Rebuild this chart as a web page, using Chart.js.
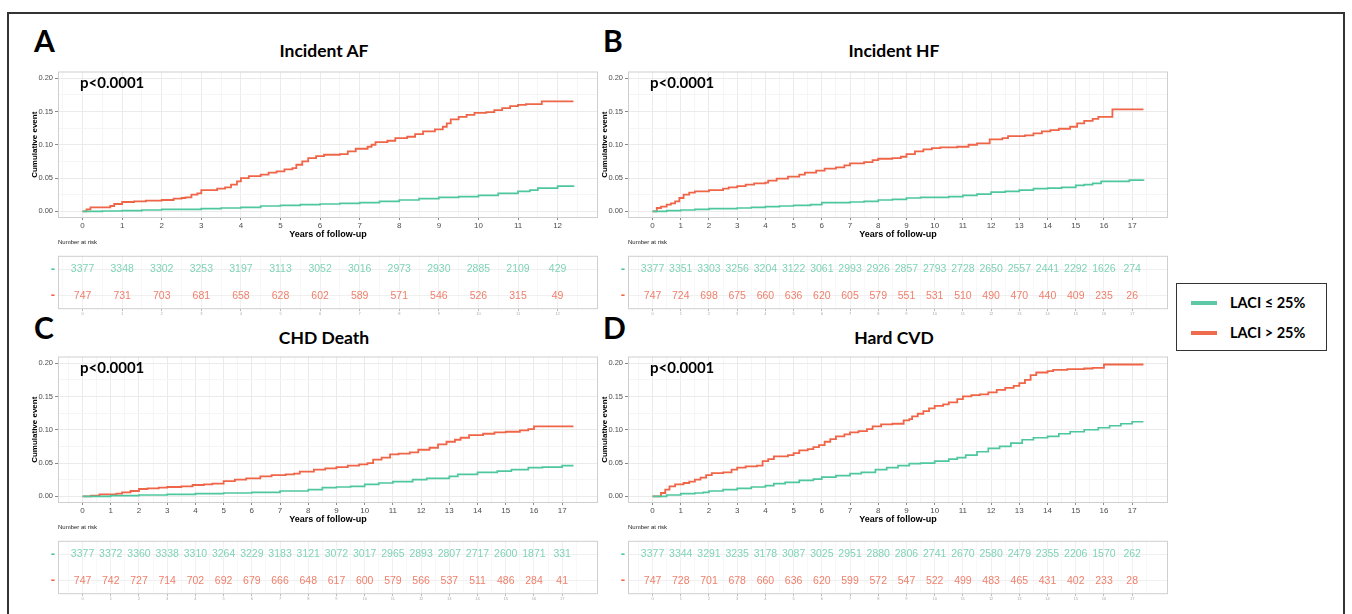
<!DOCTYPE html>
<html>
<head>
<meta charset="utf-8">
<script src="https://cdn.jsdelivr.net/npm/chart.js@4"></script>
<style>
  body { margin: 0; background: #fff; }
  #wrap { position: relative; width: 1352px; height: 614px; overflow: hidden; background: #fff; }
  #border { position: absolute; left: 7px; top: 12px; width: 1334px; height: 620px; border: 2px solid #333; }
  canvas { position: absolute; }
  .letter { position: absolute; font: bold 30px Lato, sans-serif; line-height: 30px; color: #000; }
  .title { position: absolute; width: 300px; text-align: center; font: bold 17.5px Lato, sans-serif; line-height: 20px; color: #000; }
  .pval { position: absolute; font: bold 15px Lato, sans-serif; line-height: 16px; color: #000; }
  .nrisk { position: absolute; font: 6px "Liberation Sans", Arial, sans-serif; line-height: 6px; color: #222; }
  #legend { position: absolute; left: 1176px; top: 283px; width: 149px; height: 66px; border: 1.5px solid #333; background: #fff; }
  .lg { position: absolute; left: 14px; width: 26px; height: 4px; }
  .lgt { position: absolute; left: 53px; font: bold 14.5px Lato, sans-serif; line-height: 16px; color: #000; }
</style>
</head>
<body>
<div id="wrap">
  <div id="border"></div>

  <div class="letter" style="left:34px;top:25px">A</div>
  <div class="letter" style="left:603px;top:25px">B</div>
  <div class="letter" style="left:34px;top:312px">C</div>
  <div class="letter" style="left:603px;top:312px">D</div>

  <div class="title" style="left:174px;top:41px">Incident AF</div>
  <div class="title" style="left:744px;top:41px">Incident HF</div>
  <div class="title" style="left:174px;top:328px">CHD Death</div>
  <div class="title" style="left:744px;top:328px">Hard CVD</div>

  <canvas id="kmA" width="584" height="175" style="left:26px;top:65px"></canvas>
  <canvas id="kmB" width="584" height="175" style="left:596px;top:65px"></canvas>
  <canvas id="kmC" width="584" height="175" style="left:26px;top:350px"></canvas>
  <canvas id="kmD" width="584" height="175" style="left:596px;top:350px"></canvas>

  <div class="pval" style="left:80px;top:74px">p&lt;0.0001</div>
  <div class="pval" style="left:650px;top:74px">p&lt;0.0001</div>
  <div class="pval" style="left:80px;top:359px">p&lt;0.0001</div>
  <div class="pval" style="left:650px;top:359px">p&lt;0.0001</div>

  <div class="nrisk" style="left:58px;top:239px">Number at risk</div>
  <div class="nrisk" style="left:628px;top:239px">Number at risk</div>
  <div class="nrisk" style="left:58px;top:524px">Number at risk</div>
  <div class="nrisk" style="left:628px;top:524px">Number at risk</div>

  <canvas id="rkA" width="580" height="75" style="left:30px;top:245px"></canvas>
  <canvas id="rkB" width="580" height="75" style="left:600px;top:245px"></canvas>
  <canvas id="rkC" width="580" height="75" style="left:30px;top:530px"></canvas>
  <canvas id="rkD" width="580" height="75" style="left:600px;top:530px"></canvas>

  <div id="legend">
    <div class="lg" style="top:17px;background:#5ec7a5"></div>
    <div class="lgt" style="top:11px">LACI ≤ 25%</div>
    <div class="lg" style="top:47px;background:#ee6b4d"></div>
    <div class="lgt" style="top:41px">LACI &gt; 25%</div>
  </div>
</div>

<script>
// follow-up years shown on the axes / risk tables
const yearsAF = [0, 1, 2, 3, 4, 5, 6, 7, 8, 9, 10, 11, 12];
const years17 = [0, 1, 2, 3, 4, 5, 6, 7, 8, 9, 10, 11, 12, 13, 14, 15, 16, 17];

// numbers at risk
const afLowRisk = [3377, 3348, 3302, 3253, 3197, 3113, 3052, 3016, 2973, 2930, 2885, 2109, 429];
const afHighRisk = [747, 731, 703, 681, 658, 628, 602, 589, 571, 546, 526, 315, 49];
const hfLowRisk = [3377, 3351, 3303, 3256, 3204, 3122, 3061, 2993, 2926, 2857, 2793, 2728, 2650, 2557, 2441, 2292, 1626, 274];
const hfHighRisk = [747, 724, 698, 675, 660, 636, 620, 605, 579, 551, 531, 510, 490, 470, 440, 409, 235, 26];
const chdLowRisk = [3377, 3372, 3360, 3338, 3310, 3264, 3229, 3183, 3121, 3072, 3017, 2965, 2893, 2807, 2717, 2600, 1871, 331];
const chdHighRisk = [747, 742, 727, 714, 702, 692, 679, 666, 648, 617, 600, 579, 566, 537, 511, 486, 284, 41];
const cvdLowRisk = [3377, 3344, 3291, 3235, 3178, 3087, 3025, 2951, 2880, 2806, 2741, 2670, 2580, 2479, 2355, 2206, 1570, 262];
const cvdHighRisk = [747, 728, 701, 678, 660, 636, 620, 599, 572, 547, 522, 499, 483, 465, 431, 402, 233, 28];

// cumulative event curves (step times / values)
const afHighT = [0, 0.1, 0.2, 0.7, 0.8, 1.0, 1.3, 1.6, 2.0, 2.3, 2.5, 2.6, 2.75, 2.9, 3.0, 3.4, 3.6, 3.75, 3.9, 4.0, 4.2, 4.5, 4.7, 4.9, 5.1, 5.3, 5.4, 5.55, 5.7, 5.9, 6.1, 6.5, 6.7, 6.9, 7.2, 7.3, 7.4, 7.7, 7.9, 8.2, 8.4, 8.6, 8.9, 9.1, 9.2, 9.3, 9.5, 9.7, 9.9, 10.2, 10.4, 10.6, 10.8, 11.0, 11.2, 11.6, 12.4];
const afHighV = [0, 0.003, 0.006, 0.008, 0.011, 0.014, 0.015, 0.016, 0.017, 0.019, 0.020, 0.021, 0.025, 0.027, 0.032, 0.034, 0.036, 0.040, 0.045, 0.050, 0.053, 0.055, 0.058, 0.060, 0.063, 0.065, 0.070, 0.075, 0.080, 0.083, 0.085, 0.086, 0.090, 0.094, 0.097, 0.100, 0.104, 0.106, 0.110, 0.112, 0.116, 0.120, 0.123, 0.127, 0.132, 0.138, 0.142, 0.145, 0.148, 0.149, 0.152, 0.155, 0.158, 0.160, 0.161, 0.165, 0.165];
const afLowT = [0, 0.5, 1, 1.5, 2, 2.5, 3, 3.5, 4, 4.5, 5, 5.5, 6, 6.5, 7, 7.5, 8, 8.5, 9, 9.5, 10, 10.5, 11, 11.3, 11.5, 12, 12.4];
const afLowV = [0, 0.0005, 0.001, 0.002, 0.003, 0.003, 0.004, 0.005, 0.006, 0.008, 0.009, 0.010, 0.011, 0.012, 0.013, 0.015, 0.017, 0.019, 0.021, 0.022, 0.024, 0.027, 0.030, 0.032, 0.035, 0.038, 0.039];

const hfHighT = [0, 0.15, 0.3, 0.5, 0.65, 0.8, 0.95, 1.1, 1.3, 1.5, 2.0, 2.5, 2.7, 3.0, 3.3, 3.6, 4.0, 4.1, 4.4, 4.8, 5.2, 5.4, 5.8, 6.1, 6.5, 6.8, 7.0, 7.5, 7.8, 8.0, 8.5, 8.8, 9.0, 9.3, 9.6, 9.9, 10.2, 10.8, 11.2, 11.5, 11.95, 12.4, 12.6, 13.2, 13.5, 13.8, 14.1, 14.4, 14.8, 15.05, 15.3, 15.6, 15.8, 16.3, 17.4];
const hfHighV = [0, 0.005, 0.007, 0.010, 0.012, 0.015, 0.020, 0.025, 0.028, 0.030, 0.032, 0.034, 0.036, 0.038, 0.040, 0.042, 0.043, 0.046, 0.049, 0.052, 0.055, 0.058, 0.061, 0.064, 0.066, 0.069, 0.072, 0.074, 0.077, 0.079, 0.080, 0.082, 0.086, 0.090, 0.093, 0.095, 0.096, 0.097, 0.100, 0.102, 0.108, 0.110, 0.113, 0.114, 0.117, 0.120, 0.122, 0.124, 0.127, 0.132, 0.136, 0.139, 0.142, 0.153, 0.153];
const hfLowT = [0, 0.5, 1, 1.5, 2, 2.5, 3, 3.5, 4, 4.5, 5, 5.6, 6, 6.5, 7, 7.5, 8, 8.5, 9, 9.5, 10, 10.5, 11, 11.5, 12, 12.5, 13, 13.5, 14, 14.5, 15, 15.3, 15.6, 15.9, 16.5, 16.9, 17.4];
const hfLowV = [0, 0.001, 0.002, 0.003, 0.004, 0.004, 0.005, 0.006, 0.007, 0.008, 0.009, 0.010, 0.013, 0.013, 0.014, 0.015, 0.017, 0.018, 0.020, 0.021, 0.021, 0.022, 0.024, 0.026, 0.029, 0.030, 0.032, 0.034, 0.035, 0.036, 0.039, 0.040, 0.042, 0.045, 0.045, 0.047, 0.048];

const chdHighT = [0, 0.3, 0.6, 1.2, 1.4, 1.7, 2.0, 2.3, 2.7, 3.0, 3.5, 3.9, 4.3, 4.6, 5.0, 5.4, 5.8, 6.3, 6.7, 7.2, 7.5, 7.7, 8.2, 8.6, 9.0, 9.4, 9.8, 10.1, 10.3, 10.6, 10.9, 11.2, 11.6, 11.9, 12.3, 12.6, 12.9, 13.2, 13.4, 13.7, 14.2, 14.6, 15.0, 15.5, 15.8, 16.0, 17.4];
const chdHighV = [0, 0.001, 0.003, 0.004, 0.006, 0.008, 0.011, 0.012, 0.013, 0.014, 0.015, 0.017, 0.018, 0.019, 0.023, 0.025, 0.027, 0.030, 0.032, 0.033, 0.034, 0.037, 0.040, 0.042, 0.044, 0.046, 0.048, 0.050, 0.055, 0.058, 0.063, 0.064, 0.066, 0.070, 0.073, 0.078, 0.082, 0.085, 0.088, 0.092, 0.094, 0.096, 0.097, 0.099, 0.101, 0.105, 0.105];
const chdLowT = [0, 1, 2, 3, 4, 5, 6, 7, 8, 8.5, 9, 9.5, 10, 10.5, 11, 11.7, 12.2, 13, 13.3, 14, 14.7, 15.2, 15.8, 16.3, 17, 17.4];
const chdLowV = [0, 0.001, 0.002, 0.003, 0.004, 0.005, 0.006, 0.008, 0.010, 0.013, 0.014, 0.015, 0.018, 0.020, 0.022, 0.025, 0.027, 0.030, 0.033, 0.036, 0.038, 0.040, 0.043, 0.044, 0.046, 0.046];

const cvdHighT = [0, 0.3, 0.45, 0.6, 0.8, 1.1, 1.3, 1.5, 1.7, 1.9, 2.1, 2.5, 2.8, 3.0, 3.3, 3.7, 3.9, 4.1, 4.3, 4.8, 5.0, 5.2, 5.5, 5.7, 5.9, 6.1, 6.3, 6.5, 6.8, 7.0, 7.3, 7.6, 7.8, 8.1, 8.5, 8.9, 9.1, 9.2, 9.4, 9.6, 9.8, 10.0, 10.3, 10.5, 10.8, 11.0, 11.3, 11.6, 11.9, 12.2, 12.5, 12.8, 13.0, 13.2, 13.4, 13.6, 14.0, 14.2, 14.7, 15.3, 15.6, 16.0, 17.4];
const cvdHighV = [0, 0.005, 0.010, 0.015, 0.018, 0.020, 0.022, 0.025, 0.028, 0.032, 0.035, 0.036, 0.040, 0.043, 0.045, 0.046, 0.053, 0.056, 0.060, 0.062, 0.065, 0.069, 0.071, 0.074, 0.077, 0.082, 0.086, 0.090, 0.093, 0.096, 0.098, 0.101, 0.105, 0.108, 0.109, 0.114, 0.116, 0.120, 0.124, 0.128, 0.132, 0.136, 0.138, 0.141, 0.146, 0.150, 0.152, 0.153, 0.156, 0.160, 0.163, 0.166, 0.170, 0.175, 0.182, 0.186, 0.188, 0.190, 0.191, 0.192, 0.193, 0.198, 0.198];
const cvdLowT = [0, 0.5, 1, 1.5, 1.8, 2, 2.5, 3, 3.5, 4, 4.3, 4.7, 5.2, 5.7, 6, 6.5, 7, 7.4, 7.9, 8.3, 8.7, 9.1, 9.5, 10, 10.5, 10.8, 11.1, 11.5, 11.9, 12.3, 12.7, 13.1, 13.5, 14, 14.4, 14.8, 15.3, 15.8, 16.2, 16.6, 17, 17.4];
const cvdLowV = [0, 0.002, 0.004, 0.005, 0.006, 0.008, 0.010, 0.012, 0.014, 0.016, 0.019, 0.021, 0.024, 0.026, 0.029, 0.031, 0.034, 0.036, 0.040, 0.043, 0.046, 0.049, 0.050, 0.053, 0.056, 0.058, 0.062, 0.067, 0.072, 0.075, 0.080, 0.085, 0.088, 0.090, 0.094, 0.097, 0.100, 0.103, 0.106, 0.109, 0.112, 0.112];

const GREEN = '#4fc79d';
const RED = '#ef6548';
const GREEN_TXT = '#7fd3b6';
const RED_TXT = '#ef7f6b';
const AXIS_TXT = '#4d4d4d';

Chart.defaults.font.family = '"Liberation Sans", Arial, sans-serif';
Chart.defaults.animation = false;

const zip = (t, v) => t.map((x, i) => ({ x: x, y: v[i] }));
const isInt = v => Math.abs(v - Math.round(v)) < 1e-6;

// light grey panel frame like ggplot
const framePlugin = {
    id: 'frame',
    beforeDatasetsDraw(chart) {
        const { ctx, chartArea: a } = chart;
        ctx.save();
        ctx.strokeStyle = '#cfcfcf';
        ctx.lineWidth = 1;
        ctx.strokeRect(a.left + 0.5, a.top + 0.5, a.right - a.left - 1, a.bottom - a.top - 1);
        ctx.restore();
    }
};

// writes the risk numbers where the (invisible) points sit
const riskText = {
    id: 'riskText',
    afterDatasetsDraw(chart) {
        const ctx = chart.ctx;
        ctx.save();
        ctx.font = '10.5px "Liberation Sans", Arial, sans-serif';
        ctx.textAlign = 'center';
        ctx.textBaseline = 'middle';
        chart.data.datasets.forEach((ds, i) => {
            ctx.fillStyle = ds.textColor;
            chart.getDatasetMeta(i).data.forEach((pt, j) => {
                ctx.fillText(String(ds.data[j].n), pt.x, pt.y);
            });
        });
        ctx.restore();
    }
};

// x ticks: labelled years plus half-year minor lines
function yearTicks(years, min) {
    const out = [];
    years.forEach(y => {
        if (y - 0.5 >= min) out.push({ value: y - 0.5 });
        out.push({ value: y });
    });
    out.push({ value: years[years.length - 1] + 0.5 });
    return out;
}

function kmChart(id, years, xMin, xMax, lowT, lowV, highT, highV) {
    new Chart(document.getElementById(id), {
        type: 'line',
        data: {
            datasets: [
                { label: 'LACI ≤ 25%', data: zip(lowT, lowV), borderColor: GREEN, borderWidth: 1.7, stepped: true, pointRadius: 0, fill: false },
                { label: 'LACI > 25%', data: zip(highT, highV), borderColor: RED, borderWidth: 1.8, stepped: true, pointRadius: 0, fill: false }
            ]
        },
        options: {
            responsive: false,
            layout: { padding: { top: 6, right: 12, left: 0, bottom: 0 } },
            plugins: { legend: { display: false }, tooltip: { enabled: false } },
            scales: {
                x: {
                    type: 'linear', min: xMin, max: xMax,
                    afterBuildTicks: s => { s.ticks = yearTicks(years, xMin); },
                    afterFit: s => { s.height = 22; },
                    border: { display: false },
                    grid: {
                        color: c => isInt(c.tick.value) ? '#ebebeb' : '#f5f5f5',
                        tickColor: c => isInt(c.tick.value) ? '#888' : 'rgba(0,0,0,0)',
                        tickLength: 2
                    },
                    ticks: {
                        autoSkip: false, maxRotation: 0, padding: 1, color: AXIS_TXT,
                        font: { size: 8 },
                        callback: v => isInt(v) && years.includes(Math.round(v)) ? String(Math.round(v)) : ''
                    },
                    title: { display: true, text: 'Years of follow-up', color: '#000', font: { size: 9, weight: 'bold' }, padding: { top: 0, bottom: 0 } }
                },
                y: {
                    type: 'linear', min: -0.01, max: 0.21,
                    afterBuildTicks: s => {
                        const t = [];
                        for (let k = 0; k <= 8; k++) t.push({ value: k * 0.025 });
                        s.ticks = t;
                    },
                    afterFit: s => { s.width = 32; },
                    border: { display: false },
                    grid: {
                        color: c => Math.round(c.tick.value * 1000) % 50 === 0 ? '#ebebeb' : '#f5f5f5',
                        tickColor: c => Math.round(c.tick.value * 1000) % 50 === 0 ? '#888' : 'rgba(0,0,0,0)',
                        tickLength: 3
                    },
                    ticks: {
                        padding: 2, color: AXIS_TXT, font: { size: 7.5 },
                        callback: v => Math.round(v * 1000) % 50 === 0 ? v.toFixed(2) : ''
                    },
                    title: { display: true, text: 'Cumulative event', color: '#000', font: { size: 8, weight: 'bold' }, padding: { top: 4, bottom: 0 } }
                }
            }
        },
        plugins: [framePlugin]
    });
}

function riskChart(id, years, xMin, xMax, low, high) {
    new Chart(document.getElementById(id), {
        type: 'scatter',
        data: {
            datasets: [
                { data: years.map((x, i) => ({ x: x, y: 1, n: low[i] })), textColor: GREEN_TXT, pointRadius: 0 },
                { data: years.map((x, i) => ({ x: x, y: 0, n: high[i] })), textColor: RED_TXT, pointRadius: 0 }
            ]
        },
        options: {
            responsive: false,
            layout: { padding: { top: 2, right: 12, left: 0, bottom: 0 } },
            plugins: { legend: { display: false }, tooltip: { enabled: false } },
            scales: {
                x: {
                    type: 'linear', min: xMin, max: xMax,
                    afterBuildTicks: s => { s.ticks = yearTicks(years, xMin); },
                    afterFit: s => { s.height = 10; },
                    border: { display: false },
                    grid: {
                        color: c => isInt(c.tick.value) ? '#f0f0f0' : '#f8f8f8',
                        tickColor: c => isInt(c.tick.value) ? '#bbb' : 'rgba(0,0,0,0)',
                        tickLength: 2
                    },
                    ticks: {
                        autoSkip: false, maxRotation: 0, padding: 0, color: '#aaa', font: { size: 4 },
                        callback: v => isInt(v) && years.includes(Math.round(v)) ? String(Math.round(v)) : ''
                    }
                },
                y: {
                    type: 'linear', min: -0.5, max: 1.5,
                    afterBuildTicks: s => { s.ticks = [{ value: 0 }, { value: 1 }]; },
                    afterFit: s => { s.width = 28; },
                    border: { display: false },
                    grid: { color: '#f0f0f0', drawTicks: false },
                    ticks: {
                        padding: 3, font: { size: 13, weight: 'bold' },
                        color: c => c.tick.value === 1 ? GREEN : RED,
                        callback: () => '-'
                    }
                }
            }
        },
        plugins: [framePlugin, riskText]
    });
}

// ggplot-style 5% expansion around the follow-up range
kmChart('kmA', yearsAF, -0.62, 13.02, afLowT, afLowV, afHighT, afHighV);
kmChart('kmB', years17, -0.87, 18.27, hfLowT, hfLowV, hfHighT, hfHighV);
kmChart('kmC', years17, -0.87, 18.27, chdLowT, chdLowV, chdHighT, chdHighV);
kmChart('kmD', years17, -0.87, 18.27, cvdLowT, cvdLowV, cvdHighT, cvdHighV);

riskChart('rkA', yearsAF, -0.62, 13.02, afLowRisk, afHighRisk);
riskChart('rkB', years17, -0.87, 18.27, hfLowRisk, hfHighRisk);
riskChart('rkC', years17, -0.87, 18.27, chdLowRisk, chdHighRisk);
riskChart('rkD', years17, -0.87, 18.27, cvdLowRisk, cvdHighRisk);
</script>
</body>
</html>
